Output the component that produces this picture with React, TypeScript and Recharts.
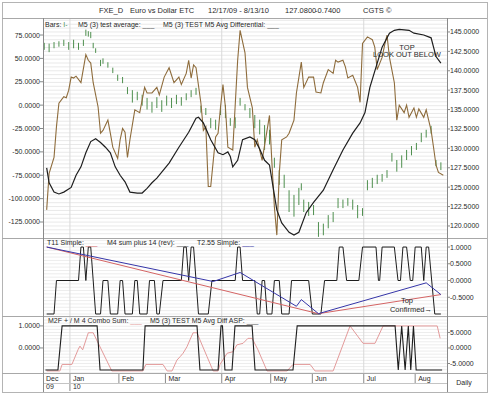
import React from 'react';
import { ComposedChart, Line, XAxis, YAxis, CartesianGrid } from 'recharts';

const FONT = '"Liberation Sans", Arial, Helvetica, sans-serif';

// x = bar index (0 = 12/17/09 ... 164 = 8/13/10)
const monthLabels = ['Dec', 'Jan', 'Feb', 'Mar', 'Apr', 'May', 'Jun', 'Jul', 'Aug'];
const monthStarts = [-0.5, 10.5, 30.5, 49.5, 72.5, 92.5, 109.5, 130.5, 151.5];
const yearLabels = ['09', '10'];
const yearStarts = [-0.5, 10.5];
const quarterLines = [10.5, 72.5, 130.5];

// FXE daily bars: [index, high, low]
const priceBars: [number, number, number][] = [
  [0, 143.6, 142.7], [2, 143.5, 142.4], [4, 143.7, 142.9], [6, 143.8, 143.1], [8, 144.0, 143.2],
  [10, 143.7, 142.7], [12, 144.0, 142.9], [14, 143.6, 142.7], [16, 144.0, 143.2], [17, 145.3, 144.5],
  [18, 145.1, 144.4], [19, 145.0, 144.2], [20, 143.6, 142.9], [21, 142.9, 142.3], [23, 141.4, 140.6],
  [24, 141.6, 140.9], [26, 141.1, 140.4], [28, 140.4, 139.7], [30, 139.5, 138.7], [32, 139.2, 138.4],
  [34, 137.9, 137.0], [36, 137.5, 135.9], [38, 137.3, 136.2], [40, 136.9, 135.5], [42, 136.5, 135.0],
  [44, 136.0, 134.6], [46, 136.6, 135.2], [48, 136.2, 134.7], [50, 136.8, 135.5], [52, 136.5, 135.2],
  [54, 136.9, 135.7], [56, 136.6, 135.5], [58, 137.1, 136.2], [60, 137.5, 136.6], [62, 137.8, 136.9],
  [64, 135.5, 134.6], [66, 135.2, 134.3], [68, 133.9, 132.6], [70, 133.7, 132.4], [72, 135.5, 134.3],
  [74, 135.6, 133.9], [76, 133.9, 132.9], [78, 134.0, 132.6], [80, 136.5, 135.5], [82, 135.7, 134.9],
  [84, 135.2, 133.9], [86, 134.3, 132.6], [88, 133.7, 131.8], [90, 133.0, 129.8], [92, 132.4, 130.5],
  [94, 128.8, 127.5], [96, 127.2, 125.3], [98, 126.6, 124.9], [100, 124.6, 121.8], [102, 124.0, 121.2],
  [104, 124.9, 122.7], [105, 125.5, 124.6], [106, 123.4, 121.8], [108, 123.1, 121.3], [110, 122.7, 121.4],
  [112, 120.5, 118.6], [114, 120.3, 118.8], [116, 121.4, 119.7], [118, 121.8, 120.5], [120, 123.6, 122.3],
  [122, 123.4, 122.3], [124, 123.6, 122.6], [126, 123.4, 122.1], [128, 122.7, 121.0], [130, 122.3, 121.3],
  [132, 125.9, 124.6], [134, 126.2, 124.9], [136, 126.6, 125.4], [138, 126.7, 125.7], [140, 127.2, 126.2],
  [142, 129.4, 128.3], [144, 128.5, 127.0], [146, 129.1, 127.5], [148, 129.8, 128.5], [150, 130.3, 129.1],
  [152, 130.7, 129.8], [154, 132.0, 130.8], [156, 132.4, 131.4], [158, 132.9, 131.9], [160, 128.5, 127.7],
  [162, 128.2, 127.2],
];

// M5 (3) test average (brown, left axis)
const testAverage: [number, number][] = [
  [1, -112], [2, -73], [4, -56], [5, -23], [6, 2], [8, 9], [9, 8], [10, 16], [11, 30], [12, 29], [13, 31],
  [15, 24], [17, 54], [18, 48], [19, 45], [20, 24], [22, -2], [23, -30], [24, -27], [26, -16], [27, -30],
  [28, -45], [30, -57], [31, -37], [32, -25], [33, -29], [34, -56], [35, -37], [37, -5], [39, -8], [41, 19],
  [42, 13], [44, 13], [46, 19], [47, 11], [49, 30], [51, 40], [53, 24], [55, 30], [56, 22], [58, 34],
  [59, 48], [60, 29], [61, 43], [62, 40], [64, 2], [65, -27], [66, -23], [67, -87], [68, -87], [70, -34],
  [71, -30], [72, -2], [73, 22], [74, -2], [75, -45], [77, -48], [79, 48], [80, 80], [82, 56], [83, 19],
  [85, -3], [86, -45], [87, -37], [89, -59], [91, -27], [92, -11], [93, -62], [94, -109], [95, -139],
  [96, -73], [97, -37], [99, -34], [100, -30], [102, -16], [103, 13], [105, 46], [106, 19], [108, 30],
  [110, 30], [111, 14], [113, 13], [114, 24], [116, 38], [118, 34], [119, 48], [120, 46], [122, 48],
  [123, 41], [124, 29], [126, 32], [128, 19], [129, 3], [130, 66], [132, 73], [134, 70], [135, 62],
  [136, 38], [138, 51], [139, 64], [140, 75], [141, 51], [143, 24], [144, -16], [145, 0], [147, -8],
  [148, 0], [149, -13], [151, -3], [152, -13], [153, -4], [155, -13], [156, -5], [158, -27], [159, -45],
  [160, -64], [161, -72], [163, -75],
];

// M5 (3) TEST M5 Avg Differential (black, left axis)
const avgDifferential: [number, number][] = [
  [1, -67], [2, -83], [4, -93], [6, -95], [8, -93], [11, -88], [13, -75], [15, -66], [17, -51], [19, -39],
  [21, -36], [23, -40], [25, -45], [27, -51], [29, -66], [31, -75], [33, -82], [35, -93], [38, -94],
  [40, -94], [42, -89], [44, -83], [46, -78], [51, -62], [55, -45], [59, -29], [62, -14], [63, -13],
  [65, -19], [68, -37], [71, -51], [73, -53], [75, -50], [76, -55], [77, -66], [79, -59], [81, -37],
  [84, -34], [86, -37], [88, -47], [90, -59], [92, -64], [95, -112], [97, -126], [100, -136], [102, -139],
  [104, -136], [107, -115], [110, -104], [114, -91], [118, -69], [122, -48], [126, -30], [129, -19],
  [131, -8], [133, 19], [136, 45], [138, 62], [141, 77], [143, 80], [145, 81], [149, 80], [151, 77],
  [155, 75], [158, 72], [159, 62], [160, 52], [162, 45],
];

// Middle panel
const t11Simple: [number, number][] = [[1, 1.0], [112, -0.99], [162, -0.42]];
const t255Simple: [number, number][] = [
  [1, 1.0], [69, -0.03], [80, 0.24], [103, -0.77], [105, -0.57], [112, -0.99], [156, -0.07], [162, -0.42],
];
const m4Sum: [number, number][] = [
  [1, -1], [4, -1], [5, 0], [14, 0], [15, 1], [16, 1], [17, 0], [18, 1], [19, 1], [21, -1], [23, -1],
  [24, 0], [26, 0], [27, -1], [30, -1], [31, 0], [32, 0], [33, -1], [36, -1], [37, 0], [38, 0], [39, -1],
  [42, -1], [43, 0], [45, 0], [46, -1], [47, -1], [48.5, 0], [56, 0], [57, 1], [58, 1], [59, 0], [60, 1],
  [61, 1], [63, -1], [67, -1], [68.5, 0], [78, 0], [79, 1], [80, 1], [81, 0], [86, 0], [87, -1], [88, -1],
  [89, 0], [90, 0], [91, -1], [93, -1], [94, 0], [96, 0], [97, -1], [100, -1], [101, 0], [108, 0],
  [109.5, -1], [113, -1], [114.5, 0], [119.5, 0], [120.5, 1], [122, 1], [123.5, 0], [128.5, 0], [130, 1],
  [135.5, 1], [136.5, 0], [137, 0], [138, 1], [143, 1], [144.5, 0], [145.5, 0], [146.5, 1], [148, 1],
  [149.5, 0], [150.5, 0], [151.5, 1], [154, 1], [155, 0], [156, 1], [157, 1], [159.5, -1], [162, -1],
];

// Bottom panel
const comboSum: [number, number][] = [
  [1, -7.4], [6.4, -7.4], [7.3, -5.3], [11.3, -5.3], [13.9, -0.4], [14.6, 0.6], [15.7, -0.6], [18, 4.9],
  [20, 4.9], [21.4, 2.6], [27.6, -7.4], [40.3, -7.4], [41.5, -5.3], [48.5, -5.3], [50.2, -7.4], [52.2, -7.4],
  [54.2, -3.9], [55.5, -2.8], [56.7, -1.7], [58.3, 0.4], [59.5, 2.6], [60.8, 4.9], [62.4, 4.9], [63.6, 2.6],
  [66.5, -2.8], [69, -7.4], [71, -7.4], [71.8, -5.3], [74.7, -1.7], [77.1, -1.2], [78.7, 1], [81.2, 1.5],
  [83.2, 3.1], [84.9, 3.1], [87.3, -0.6], [91, -7.4], [99.2, -7.4], [101.6, -5.3], [108.6, -5.3],
  [110.6, -7.4], [118, -7.4], [124.9, 7.1], [130.2, 1.5], [135.1, 1.5], [138.4, 7.1], [160.5, 7.1], [161.7, 3.1],
];
const aspDiff: [number, number][] = [
  [0.5, -1], [5.6, -1], [7.3, 1], [21.6, 1], [22.8, -1], [40.3, -1], [41.2, 1], [62.4, 1], [63.6, -1],
  [71, -1], [72.2, 1], [72.8, 1], [73.8, -1], [76.7, -1], [77.9, 1], [84.9, 1], [86.1, -1], [101.6, -1],
  [103.3, 1], [143.3, 1], [144.6, -1], [146, 1], [147.4, -1], [148.7, 1], [149.7, -1], [150.8, 1],
  [151.9, -1], [162.5, -1],
];

const topLeftTicks = [75, 50, 25, 0, -25, -50, -75, -100, -125];
const topRightTicks = [145, 142.5, 140, 137.5, 135, 132.5, 130, 127.5, 125, 122.5, 120];
const midRightTicks = [1, 0.5, 0, -0.5];
const botLeftTicks = [1, 0];
const botRightTicks = [5, 0, -5];

const range = (a: number, b: number, step: number) => {
  const out: number[] = [];
  const n = Math.round((b - a) / step);
  for (let k = 0; k <= n; k++) out.push(+(a + k * step).toFixed(4));
  return out;
};
const topGrid = range(119, 146.5, 0.5);
const midGrid = range(-1, 1.2, 0.1);
const botGrid = range(-8, 10, 1);

const GREEN = '#4e8f4e';
const BROWN = '#8e6c3c';
const BLACK = '#1e1e1e';
const RED = '#d46464';
const BLUE = '#3535a8';
const PINK = '#e39a9a';
const AXIS = '#8a8a8a';
const TXT = '#2a2a2a';

const fmt = (v: number) => v.toFixed(4);
const rows = (a: [number, number][]) => a.map(([i, v]) => ({ i, v }));
const tickStyle = { fontSize: 7, fill: TXT, fontFamily: FONT };
const X_DOMAIN: [number, number] = [-0.5, 164.5];

const Txt = ({ x, y, size = 7, color = TXT, center = false, children }: any) => (
  <div
    style={{
      position: 'absolute', left: x, top: y, fontSize: size, lineHeight: 1, color,
      whiteSpace: 'nowrap', transform: center ? 'translateX(-50%)' : undefined,
    }}
  >
    {children}
  </div>
);

const HLine = ({ y, x1 = 2, x2 = 487, c = '#a8a8a8' }: any) => (
  <div style={{ position: 'absolute', left: x1, top: y, width: x2 - x1, height: 1, background: c }} />
);
const VLine = ({ x, y1, y2, c = '#a8a8a8' }: any) => (
  <div style={{ position: 'absolute', left: x, top: y1, width: 1, height: y2 - y1, background: c }} />
);

const DateTick = (props: any) => {
  const { x, y, payload } = props;
  const k = monthStarts.indexOf(payload.value);
  const yk = yearStarts.indexOf(payload.value);
  return (
    <g>
      {k > 0 && <line x1={x} x2={x} y1={y} y2={y + (yk >= 0 ? 18 : 10)} stroke={AXIS} strokeWidth={1} />}
      <text x={x + 3} y={y + 8} fontSize={7} fill={TXT} fontFamily={FONT}>{monthLabels[k]}</text>
      {yk >= 0 && (
        <text x={x + 3} y={y + 15.5} fontSize={7} fill={TXT} fontFamily={FONT}>{yearLabels[yk]}</text>
      )}
    </g>
  );
};

export default function App() {
  const barRows = priceBars.flatMap(([i, h, l]) => [
    { i, v: l as number | null },
    { i, v: h as number | null },
    { i, v: null },
  ]);

  return (
    <div
      style={{
        position: 'fixed', left: 0, top: 0, width: 490, height: 393, background: '#fff',
        fontFamily: FONT, overflow: 'hidden',
      }}
    >
      {/* top price panel */}
      <div style={{ position: 'absolute', left: 0, top: 18 }}>
        <ComposedChart width={490} height={220} margin={{ top: 0, right: 0, bottom: 0, left: 0 }}>
          <XAxis dataKey="i" type="number" domain={X_DOMAIN} hide allowDataOverflow />
          <YAxis yAxisId="L" orientation="left" width={43} domain={[-142.1, 93.2]} ticks={topLeftTicks}
            allowDataOverflow tickFormatter={fmt} tick={tickStyle} tickSize={3} tickMargin={0}
            axisLine={false} tickLine={{ stroke: AXIS }} interval={0} />
          <YAxis yAxisId="R" orientation="right" width={43} domain={[118.45, 146.8]} ticks={topRightTicks}
            allowDataOverflow tickFormatter={fmt} tick={tickStyle} tickSize={3} tickMargin={0}
            axisLine={false} tickLine={{ stroke: AXIS }} interval={0} />
          <CartesianGrid yAxisId="R" horizontalValues={topGrid} vertical={false} stroke="#e9e9e9" />
          <CartesianGrid yAxisId="R" verticalValues={quarterLines} horizontal={false} stroke="#d9d9d9" />
          <Line yAxisId="R" data={barRows} dataKey="v" stroke={GREEN} strokeWidth={1} dot={false}
            connectNulls={false} isAnimationActive={false} />
          <Line yAxisId="L" data={rows(testAverage)} dataKey="v" stroke={BROWN} strokeWidth={1.1} dot={false}
            isAnimationActive={false} />
          <Line yAxisId="L" data={rows(avgDifferential)} dataKey="v" stroke={BLACK} strokeWidth={1.2} dot={false}
            isAnimationActive={false} />
        </ComposedChart>
      </div>

      {/* middle panel */}
      <div style={{ position: 'absolute', left: 0, top: 238 }}>
        <ComposedChart width={490} height={78} margin={{ top: 0, right: 0, bottom: 0, left: 43 }}>
          <XAxis dataKey="i" type="number" domain={X_DOMAIN} hide allowDataOverflow />
          <YAxis yAxisId="R" orientation="right" width={43} domain={[-1.06, 1.27]} ticks={midRightTicks}
            allowDataOverflow tickFormatter={fmt} tick={tickStyle} tickSize={3} tickMargin={0}
            axisLine={false} tickLine={{ stroke: AXIS }} interval={0} />
          <CartesianGrid yAxisId="R" horizontalValues={midGrid} vertical={false} stroke="#ededed" />
          <CartesianGrid yAxisId="R" verticalValues={quarterLines} horizontal={false} stroke="#d9d9d9" />
          <Line yAxisId="R" data={rows(m4Sum)} dataKey="v" stroke={BLACK} strokeWidth={1} dot={false}
            isAnimationActive={false} />
          <Line yAxisId="R" data={rows(t11Simple)} dataKey="v" stroke={RED} strokeWidth={1} dot={false}
            isAnimationActive={false} />
          <Line yAxisId="R" data={rows(t255Simple)} dataKey="v" stroke={BLUE} strokeWidth={1} dot={false}
            isAnimationActive={false} />
        </ComposedChart>
      </div>

      {/* bottom panel + date axis */}
      <div style={{ position: 'absolute', left: 0, top: 316 }}>
        <ComposedChart width={490} height={77} margin={{ top: 0, right: 0, bottom: 0, left: 0 }}>
          <XAxis dataKey="i" type="number" domain={X_DOMAIN} allowDataOverflow ticks={monthStarts} interval={0}
            height={20} tickSize={0} tickMargin={0} axisLine={false} tickLine={false} tick={<DateTick />} />
          <YAxis yAxisId="L" orientation="left" width={43} domain={[-1.136, 1.45]} ticks={botLeftTicks}
            allowDataOverflow tickFormatter={fmt} tick={tickStyle} tickSize={3} tickMargin={0}
            axisLine={false} tickLine={{ stroke: AXIS }} interval={0} />
          <YAxis yAxisId="R" orientation="right" width={43} domain={[-8.06, 10.3]} ticks={botRightTicks}
            allowDataOverflow tickFormatter={fmt} tick={tickStyle} tickSize={3} tickMargin={0}
            axisLine={false} tickLine={{ stroke: AXIS }} interval={0} />
          <CartesianGrid yAxisId="R" horizontalValues={botGrid} vertical={false} stroke="#ededed" />
          <CartesianGrid yAxisId="R" verticalValues={quarterLines} horizontal={false} stroke="#d9d9d9" />
          <Line yAxisId="R" data={rows(comboSum)} dataKey="v" stroke={PINK} strokeWidth={1} dot={false}
            isAnimationActive={false} />
          <Line yAxisId="L" data={rows(aspDiff)} dataKey="v" stroke={BLACK} strokeWidth={1.1} dot={false}
            isAnimationActive={false} />
        </ComposedChart>
      </div>

      {/* frame */}
      <div style={{ position: 'absolute', left: 2, top: 2, width: 484, height: 389, border: '1px solid #b4b4b4' }} />
      <HLine y={18} />
      <HLine y={238} />
      <HLine y={316} />
      <HLine y={373} />
      <HLine y={383} x1={43} x2={447} c="#c4c4c4" />
      <VLine x={43} y1={18} y2={392} c={AXIS} />
      <VLine x={447} y1={18} y2={392} c={AXIS} />

      {/* title */}
      <Txt x={99} y={6.5} size={7.5}>FXE_D</Txt>
      <Txt x={130} y={6.5} size={7.5}>Euro vs Dollar ETC</Txt>
      <Txt x={208} y={6.5} size={7.5}>12/17/09 - 8/13/10</Txt>
      <Txt x={285} y={6.5} size={7.5}>127.0800</Txt>
      <Txt x={315} y={6.5} size={7.5}>-0.7400</Txt>
      <Txt x={363} y={6.5} size={7.5}>CGTS ©</Txt>

      {/* legends */}
      <Txt x={45} y={20.5}>Bars: <span style={{ color: GREEN }}>I-</span></Txt>
      <Txt x={78} y={20.5}>M5 (3) test average: <span style={{ color: '#555' }}>___</span></Txt>
      <Txt x={163} y={20.5}>M5 (3) TEST M5 Avg Differential: <span style={{ color: '#555' }}>___</span></Txt>

      <Txt x={47} y={239}>T11 Simple: <span style={{ color: RED }}>___</span></Txt>
      <Txt x={107} y={239}>M4 sum plus 14 (rev): <span style={{ color: '#555' }}>___</span></Txt>
      <Txt x={197} y={239}>T2.55 Simple: <span style={{ color: BLUE }}>___</span></Txt>

      <Txt x={48} y={317}>M2F + / M 4 Combo Sum: <span style={{ color: PINK }}>___</span></Txt>
      <Txt x={150} y={317}>M5 (3) TEST M5 Avg Diff ASP: <span style={{ color: '#555' }}>___</span></Txt>

      {/* annotations */}
      <Txt x={407} y={43.5} size={7.5} center>TOP</Txt>
      <Txt x={407} y={51} size={7.5} center>LOOK OUT BELOW</Txt>
      <Txt x={407} y={297} size={7.5} center>Top</Txt>
      <Txt x={411} y={305.5} size={7.5} center>Confirmed→</Txt>
      <Txt x={464} y={378.5} size={7} center>Daily</Txt>
    </div>
  );
}
